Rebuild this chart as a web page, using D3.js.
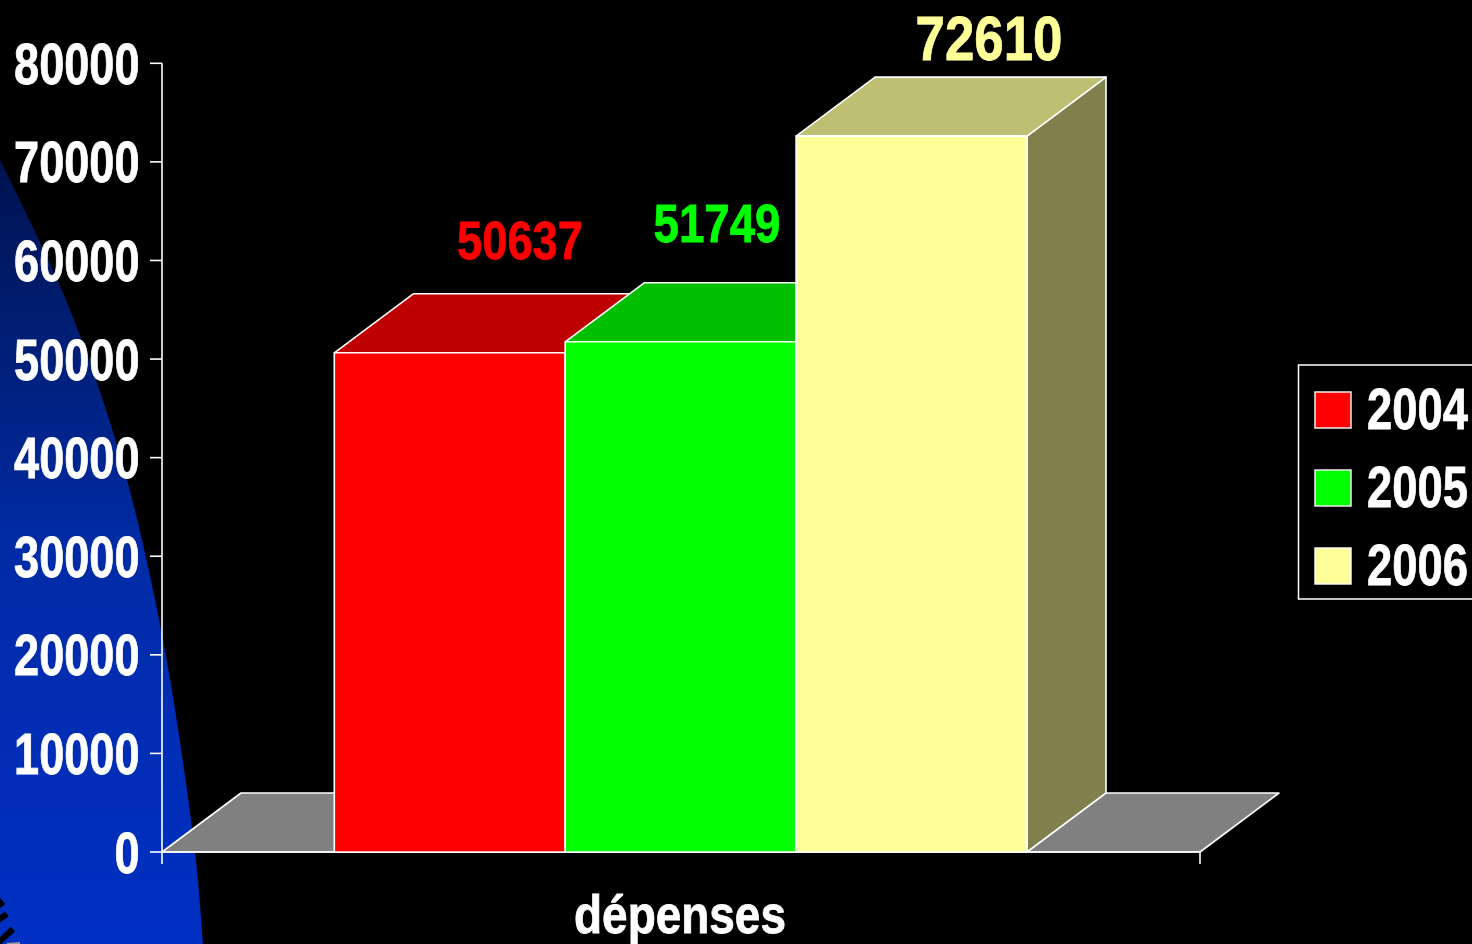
<!DOCTYPE html>
<html><head><meta charset="utf-8">
<script src="https://cdn.jsdelivr.net/npm/d3@7"></script>
<style>html,body{margin:0;padding:0;background:#000;overflow:hidden}svg{display:block}text{font-family:"Liberation Sans",Arial,sans-serif;font-weight:700;paint-order:stroke}</style>
</head><body><svg id="c" width="1472" height="944"></svg>
<script>
const years = ["2004","2005","2006"];
const values = [50637,51749,72610];
const fronts = ["#ff0000","#00ff00","#ffff99"];
const tops = ["#bf0000","#00bf00","#bfbf73"];
const sides = ["#800000","#008000","#80804d"];
const ticks = [0,10000,20000,30000,40000,50000,60000,70000,80000];
const category = "dépenses";

const svg = d3.select("#c");
const defs = svg.append("defs");
const g = defs.append("linearGradient").attr("id","bg").attr("gradientUnits","userSpaceOnUse").attr("x1",0).attr("x2",0).attr("y1",160).attr("y2",944);
[[0,"#00124f"],[0.18,"#001c6c"],[0.5,"#002ba6"],[1,"#0030c4"]].forEach(s=>g.append("stop").attr("offset",s[0]).attr("stop-color",s[1]));
svg.append("rect").attr("width",1472).attr("height",944).attr("fill","#000");

// decorative background disc at the lower left
const edge=[[-4,152],[66,300],[122,462],[163,640],[195,852],[203,944]];
const edgePath=d3.line().curve(d3.curveCatmullRom.alpha(0.5))(edge);
svg.append("path").attr("d",edgePath+"L-4,944Z").attr("fill","url(#bg)");
const dashes=[[[-2,900],[3,906]],[[-2,920],[7,914]],[[-2,943],[13,929]]];
svg.selectAll(".dash").data(dashes).join("line").attr("x1",d=>d[0][0]).attr("y1",d=>d[0][1]).attr("x2",d=>d[1][0]).attr("y2",d=>d[1][1]).attr("stroke","#000").attr("stroke-width",6);
svg.append("line").attr("x1",7).attr("x2",20).attr("y1",944).attr("y2",943).attr("stroke","#999").attr("stroke-width",2);

const y = d3.scaleLinear().domain([0,80000]).range([852,63.3]);
const x = d3.scaleBand().domain(years).range([334.3,1027]);
const dx=79, dy=59, x0=162, x1=1200;
const W="#fff";
const poly=(pts,f)=>svg.append("polygon").attr("points",pts.map(p=>p.join(",")).join(" ")).attr("fill",f).attr("stroke",W).attr("stroke-width",1.6).attr("stroke-linejoin","round");

poly([[x0,y(0)],[x0+dx,y(0)-dy],[x1+dx,y(0)-dy],[x1,y(0)]],"#808080");

const ax = svg.append("g").attr("stroke",W).attr("stroke-width",1.6);
ax.append("line").attr("x1",x0).attr("x2",x0).attr("y1",y(80000)).attr("y2",864);
ax.selectAll(".t").data(ticks).join("line").attr("x1",x0-12).attr("x2",x0).attr("y1",d=>y(d)).attr("y2",d=>y(d));
ax.append("line").attr("x1",x0).attr("x2",x1).attr("y1",y(0)).attr("y2",y(0));
ax.append("line").attr("x1",x1).attr("x2",x1).attr("y1",y(0)).attr("y2",864);

// bold condensed text: Liberation Sans Bold squeezed horizontally to the reference's width
function label(str,px,py,size,width,fill,anchor){
  const t=svg.append("text").attr("text-anchor",anchor).attr("font-size",size).attr("fill",fill)
    .attr("stroke",fill).attr("stroke-width",0.8).text(str);
  const sx=width/t.node().getComputedTextLength();
  t.attr("transform",`translate(${px},${py}) scale(${sx},1)`);
  return t;
}
ticks.forEach(d=>label(d,139.5,y(d)+20.5,57,String(d).length*25.1,W,"end"));

years.forEach((yr,i)=>{
  const l=x(yr), r=l+x.bandwidth(), t=y(values[i]), b=y(0);
  poly([[r,t],[r+dx,t-dy],[r+dx,b-dy],[r,b]],sides[i]);
  poly([[l,t],[l+dx,t-dy],[r+dx,t-dy],[r,t]],tops[i]);
  poly([[l,t],[r,t],[r,b],[l,b]],fronts[i]);
});

const labelX=[520,717,989], labelY=[259,242,60], labelSize=[54,54,63], labelW=[126,127,147];
values.forEach((v,i)=>label(v,labelX[i],labelY[i],labelSize[i],labelW[i],fronts[i],"middle"));

label(category,680,933,54,212,W,"middle");

svg.append("rect").attr("x",1298.5).attr("y",365).attr("width",190).attr("height",234).attr("fill","#000").attr("stroke",W).attr("stroke-width",1.5);
years.forEach((yr,i)=>{
  const cy=410+i*78;
  svg.append("rect").attr("x",1315).attr("y",cy-18).attr("width",36).attr("height",36).attr("fill",fronts[i]).attr("stroke",W).attr("stroke-width",1.4);
  label(yr,1367,cy+19,57,101,W,"start");
});
</script></body></html>
